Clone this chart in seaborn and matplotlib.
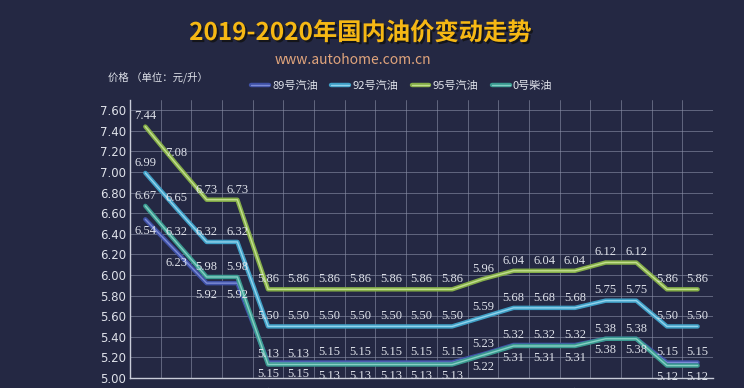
import matplotlib
matplotlib.use('Agg')
import matplotlib.pyplot as plt
import matplotlib.patheffects as pe
from matplotlib.lines import Line2D
import seaborn as sns
import pandas as pd
import numpy as np

# adjustment dates (x axis, cropped at the bottom in the reference)
dates = ['2020-01-02', '2020-01-16', '2020-02-04', '2020-02-18', '2020-03-17',
         '2020-03-31', '2020-04-15', '2020-04-29', '2020-05-14', '2020-05-28',
         '2020-06-11', '2020-06-28', '2020-07-10', '2020-07-24', '2020-08-07',
         '2020-08-21', '2020-09-04', '2020-09-18', '2020-10-09']

oil_89 = [6.54, 6.23, 5.92, 5.92, 5.15, 5.15, 5.15, 5.15, 5.15, 5.15,
          5.15, 5.23, 5.32, 5.32, 5.32, 5.38, 5.38, 5.15, 5.15]
oil_92 = [6.99, 6.65, 6.32, 6.32, 5.50, 5.50, 5.50, 5.50, 5.50, 5.50,
          5.50, 5.59, 5.68, 5.68, 5.68, 5.75, 5.75, 5.50, 5.50]
oil_95 = [7.44, 7.08, 6.73, 6.73, 5.86, 5.86, 5.86, 5.86, 5.86, 5.86,
          5.86, 5.96, 6.04, 6.04, 6.04, 6.12, 6.12, 5.86, 5.86]
diesel_0 = [6.67, 6.32, 5.98, 5.98, 5.13, 5.13, 5.13, 5.13, 5.13, 5.13,
            5.13, 5.22, 5.31, 5.31, 5.31, 5.38, 5.38, 5.12, 5.12]

names = ['89号汽油', '92号汽油', '95号汽油', '0号柴油']
colors = ['#3f51a6', '#3f9fc6', '#84ad48', '#3a9a90']
edge = ['#7d8cd6', '#93d3ec', '#c2de8e', '#86cfc4']

sns.set_theme(style='dark')
plt.rcParams['font.family'] = ['Noto Sans CJK SC', 'DejaVu Sans']

bg = '#242843'
txt = '#dfe2ea'
fig = plt.figure(figsize=(7.44, 3.88), dpi=100, facecolor=bg)
ax = fig.add_axes([0.1747, 0.026, 0.7836, 0.716])
ax.set_facecolor(bg)

df = pd.DataFrame({'idx': np.arange(len(dates))})
for n, v in zip(names, [oil_89, oil_92, oil_95, diesel_0]):
    df[n] = v
long = df.melt(id_vars='idx', var_name='series', value_name='price')

sns.lineplot(data=long, x='idx', y='price', hue='series', hue_order=names,
             palette=colors, lw=3, legend=False, ax=ax, zorder=3)
for line, ec in zip(ax.lines, edge):
    line.set_path_effects([pe.Stroke(linewidth=3.2, foreground=line.get_color()),
                           pe.Stroke(linewidth=1.0, foreground=ec)])

# axes, grid
ax.set_xlim(-0.5, len(dates) - 0.5)
ax.set_ylim(5.0, 7.697)
yt = np.round(np.arange(5.0, 7.61, 0.2), 2)
ax.set_yticks(yt)
ax.set_yticklabels([f'{v:.2f}' for v in yt], color=txt, fontsize=8.5,
                   family='DejaVu Sans')
for v in yt[1:]:
    ax.axhline(v, color='#8a8fa6', lw=0.6, alpha=0.7, zorder=1)
for b in np.arange(0.5, len(dates) - 0.5, 1):
    ax.axvline(b, color='#8a8fa6', lw=0.6, alpha=0.7, zorder=1)
ax.axvline(len(dates) - 0.5, ymax=0.963, color='#8a8fa6', lw=0.6, alpha=0.7, zorder=1)
ax.set_xticks(range(len(dates)))
ax.set_xticklabels(dates, rotation=45, ha='right', rotation_mode='anchor',
                   color=txt, fontsize=8.5)
ax.tick_params(axis='x', length=4, color='#c8ccd8', pad=2)
ax.tick_params(axis='y', length=0, pad=3)
ax.set_xlabel('')
ax.set_ylabel('')
for s in ['top', 'right']:
    ax.spines[s].set_visible(False)
for s in ['left', 'bottom']:
    ax.spines[s].set_color('#c8ccd8')
    ax.spines[s].set_linewidth(1)
ax.grid(False)

# value labels
flip = 6
lab_kw = dict(textcoords='offset points', ha='center', color=txt,
              fontsize=9, family='Liberation Serif', zorder=5)
for i in range(len(dates)):
    ax.annotate(f'{oil_95[i]:.2f}', (i, oil_95[i]), xytext=(0, 3), va='bottom', **lab_kw)
    ax.annotate(f'{oil_92[i]:.2f}', (i, oil_92[i]), xytext=(0, 3), va='bottom', **lab_kw)
    if i < flip:
        ax.annotate(f'{diesel_0[i]:.2f}', (i, diesel_0[i]), xytext=(0, 3), va='bottom', **lab_kw)
        ax.annotate(f'{oil_89[i]:.2f}', (i, oil_89[i]), xytext=(0, -4), va='top', **lab_kw)
    else:
        ax.annotate(f'{oil_89[i]:.2f}', (i, oil_89[i]), xytext=(0, 3), va='bottom', **lab_kw)
        ax.annotate(f'{diesel_0[i]:.2f}', (i, diesel_0[i]), xytext=(0, -4), va='top', **lab_kw)

# titles
fig.text(0.484, 1 - 33 / 388, '2019-2020年国内油价变动走势', ha='center', va='center',
         fontsize=17.5, fontweight='bold', color='#f6b814',
         path_effects=[pe.SimplePatchShadow(offset=(1.5, -1.5), shadow_rgbFace='#111111', alpha=0.8),
                       pe.Normal()])
fig.text(0.475, 1 - 60 / 388, 'www.autohome.com.cn', ha='center', va='center',
         fontsize=10, color='#e0a47c')
fig.text(108 / 744, 1 - 77 / 388, '价格 （单位：元/升）', ha='left', va='center',
         fontsize=7.5, color=txt)

handles = [Line2D([], [], color=c, lw=3,
                  path_effects=[pe.Stroke(linewidth=3.2, foreground=c),
                                pe.Stroke(linewidth=1.0, foreground=e)])
           for c, e in zip(colors, edge)]
fig.legend(handles, names, loc='center', bbox_to_anchor=(0.54, 1 - 86 / 388), ncol=4,
           frameon=False, fontsize=8, labelcolor=txt, handlelength=1.6,
           handletextpad=0.3, columnspacing=1.2)

fig.savefig('out.png', dpi=100, facecolor=bg)
